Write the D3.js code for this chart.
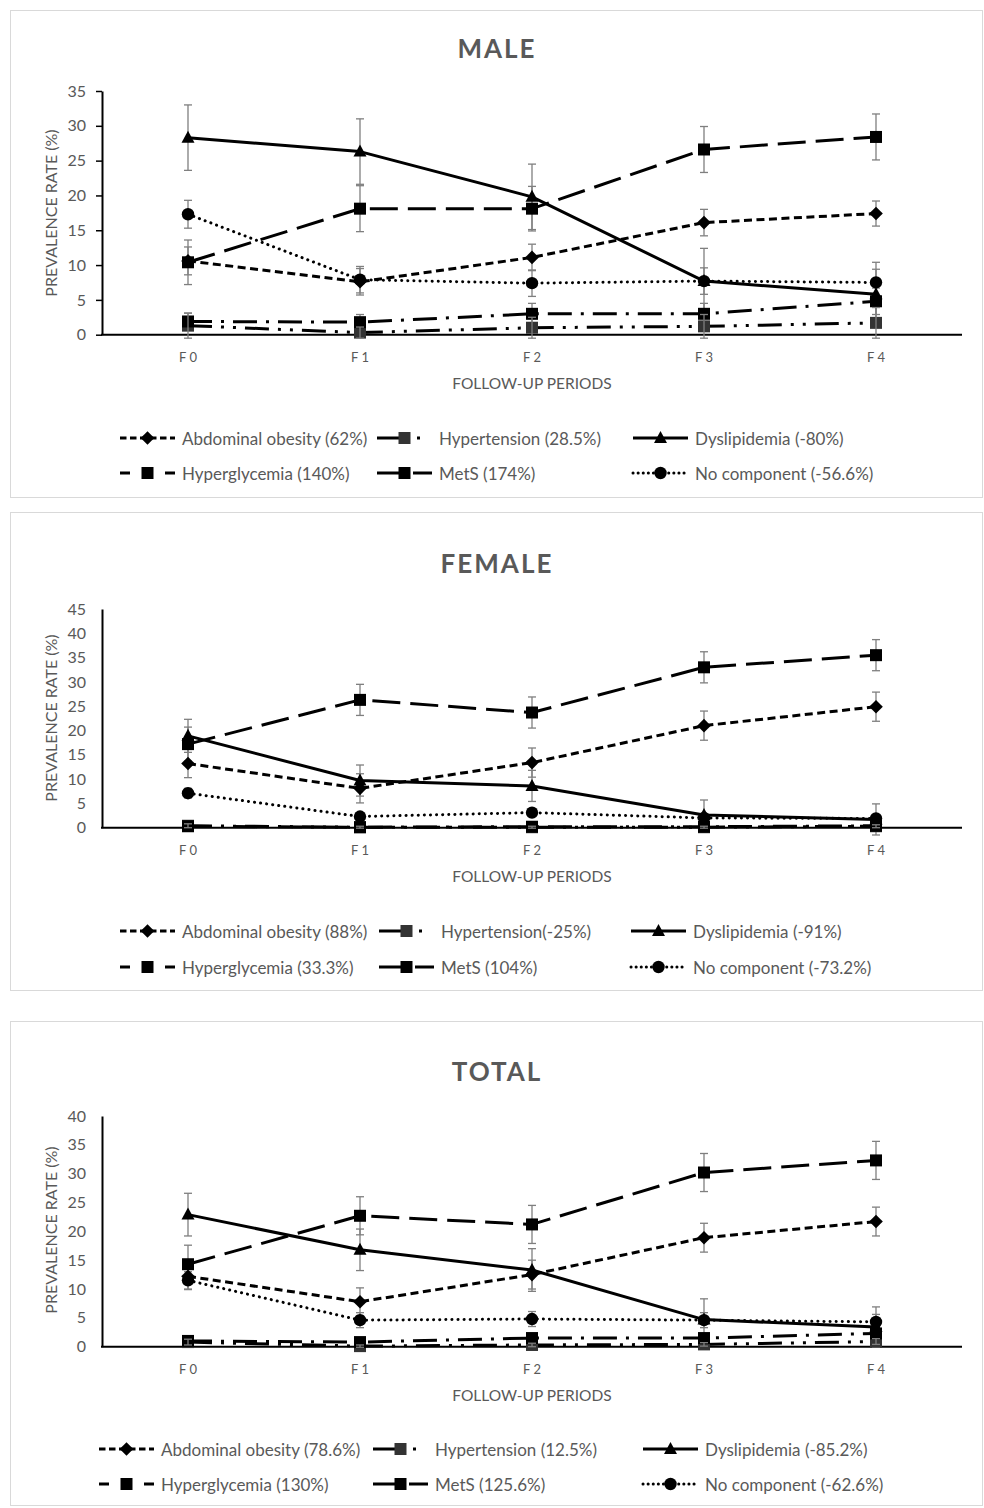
<!DOCTYPE html>
<html><head><meta charset="utf-8">
<script src="https://cdn.jsdelivr.net/npm/d3@7/dist/d3.min.js"></script>
<style>
body{margin:0;background:#fff}
svg{display:block}
text{font-family:Lato,"Open Sans",sans-serif;fill:#595959}
</style>
</head><body>
<svg id="c" width="984" height="1508"></svg>
<script>
// ---------------- DATA ----------------
const periods = ["F0","F1","F2","F3","F4"];
const seriesNames = ["Abdominal obesity","Hypertension","Dyslipidemia","Hyperglycemia","MetS","No component"];

const maleLegend = ["Abdominal obesity (62%)","Hypertension (28.5%)","Dyslipidemia (-80%)","Hyperglycemia (140%)","MetS (174%)","No component (-56.6%)"];
const maleTicks = [0,5,10,15,20,25,30,35];
const maleAbdominal = [10.6, 7.6, 11.1, 16.1, 17.4];
const maleAbdominalErr = [2.0, 1.9, 1.9, 1.9, 1.8];
const maleHypertension = [1.3, 0.3, 1.0, 1.2, 1.7];
const maleHypertensionErr = [1.8, 0.8, 1.5, 1.7, 2.2];
const maleDyslipidemia = [28.3, 26.3, 19.8, 7.7, 5.8];
const maleDyslipidemiaErr = [4.7, 4.7, 4.7, 4.7, 4.6];
const maleHyperglycemia = [10.4, 18.1, 18.1, 26.6, 28.4];
const maleHyperglycemiaErr = [3.2, 3.3, 3.2, 3.3, 3.3];
const maleMetS = [1.9, 1.8, 3.0, 3.0, 4.8];
const maleMetSErr = [1.2, 1.1, 1.5, 1.5, 1.9];
const maleNone = [17.3, 7.9, 7.4, 7.7, 7.5];
const maleNoneErr = [2.0, 1.9, 1.9, 1.9, 1.9];

const femaleLegend = ["Abdominal obesity (88%)","Hypertension(-25%)","Dyslipidemia (-91%)","Hyperglycemia (33.3%)","MetS (104%)","No component (-73.2%)"];
const femaleTicks = [0,5,10,15,20,25,30,35,40,45];
const femaleAbdominal = [13.2, 8.1, 13.4, 21.0, 24.9];
const femaleAbdominalErr = [2.9, 3.0, 3.0, 3.0, 3.0];
const femaleHypertension = [0.4, 0.1, 0.1, 0.1, 0.3];
const femaleHypertensionErr = [0.4, 0.2, 0.2, 0.2, 0.3];
const femaleDyslipidemia = [18.9, 9.7, 8.6, 2.6, 1.7];
const femaleDyslipidemiaErr = [3.4, 3.2, 3.2, 3.1, 3.2];
const femaleHyperglycemia = [17.2, 26.3, 23.7, 33.0, 35.5];
const femaleHyperglycemiaErr = [3.5, 3.2, 3.2, 3.2, 3.2];
const femaleMetS = [0.3, 0.1, 0.2, 0.2, 0.4];
const femaleMetSErr = [0.4, 0.2, 0.3, 0.3, 0.4];
const femaleNone = [7.1, 2.3, 3.1, 2.0, 1.9];
const femaleNoneErr = [1.0, 0.6, 0.7, 0.6, 0.6];

const totalLegend = ["Abdominal obesity (78.6%)","Hypertension (12.5%)","Dyslipidemia (-85.2%)","Hyperglycemia (130%)","MetS (125.6%)","No component (-62.6%)"];
const totalTicks = [0,5,10,15,20,25,30,35,40];
const totalAbdominal = [12.2, 7.8, 12.5, 18.9, 21.7];
const totalAbdominalErr = [2.3, 2.4, 2.5, 2.5, 2.5];
const totalHypertension = [0.8, 0.1, 0.3, 0.4, 0.9];
const totalHypertensionErr = [0.5, 0.2, 0.3, 0.3, 0.5];
const totalDyslipidemia = [22.9, 16.8, 13.3, 4.7, 3.4];
const totalDyslipidemiaErr = [3.7, 3.6, 3.7, 3.6, 3.5];
const totalHyperglycemia = [14.3, 22.7, 21.2, 30.2, 32.3];
const totalHyperglycemiaErr = [3.3, 3.3, 3.3, 3.3, 3.3];
const totalMetS = [1.0, 0.8, 1.5, 1.5, 2.3];
const totalMetSErr = [0.6, 0.5, 0.7, 0.7, 0.9];
const totalNone = [11.5, 4.6, 4.8, 4.6, 4.3];
const totalNoneErr = [1.5, 1.3, 1.3, 1.3, 1.3];

// ---------------- STYLES ----------------
const styles = [
  {dash:"8,4.5", legendDash:"6.5,3.5", marker:"diamond", fill:"#000", cap:"butt"},
  {dash:"24,9,3,9,3,9", legendDash:"28,12,3,20", marker:"square", fill:"#333", cap:"butt"},
  {dash:null, legendDash:null, marker:"triangle", fill:"#000", cap:"butt"},
  {dash:"28,10", legendDash:"10,35,12", marker:"square", fill:"#000", cap:"butt"},
  {dash:"24,9,3,9", legendDash:"28,8,19", marker:"square", fill:"#000", cap:"butt"},
  {dash:"0.1,6", legendDash:"0.1,5", marker:"circle", fill:"#000", cap:"round"}
];

function markerPath(type){
  if(type==="diamond") return "M0,-6.8L6.8,0L0,6.8L-6.8,0Z";
  if(type==="square") return "M-6,-6H6V6H-6Z";
  if(type==="triangle") return "M0,-7L6.5,5H-6.5Z";
  return d3.symbol().type(d3.symbolCircle).size(Math.PI*6.2*6.2)();
}

const panels = [
  {title:"MALE", top:10.5, bottom:497.5, titleY:48, yTop:91, yZero:334.7, ticks:maleTicks, yTicksMarks:true,
   yTitleY:213, legend:maleLegend, legendCols:[120,377,633], legendRows:[438,473],
   values:[maleAbdominal,maleHypertension,maleDyslipidemia,maleHyperglycemia,maleMetS,maleNone],
   errors:[maleAbdominalErr,maleHypertensionErr,maleDyslipidemiaErr,maleHyperglycemiaErr,maleMetSErr,maleNoneErr]},
  {title:"FEMALE", top:512.5, bottom:990.5, titleY:563, yTop:609, yZero:827.7, ticks:femaleTicks, yTicksMarks:false,
   yTitleY:718, legend:femaleLegend, legendCols:[120,379,631], legendRows:[931,967],
   values:[femaleAbdominal,femaleHypertension,femaleDyslipidemia,femaleHyperglycemia,femaleMetS,femaleNone],
   errors:[femaleAbdominalErr,femaleHypertensionErr,femaleDyslipidemiaErr,femaleHyperglycemiaErr,femaleMetSErr,femaleNoneErr]},
  {title:"TOTAL", top:1021.5, bottom:1505.5, titleY:1071, yTop:1116, yZero:1346.7, ticks:totalTicks, yTicksMarks:false,
   yTitleY:1230, legend:totalLegend, legendCols:[99,373,643], legendRows:[1449,1484],
   values:[totalAbdominal,totalHypertension,totalDyslipidemia,totalHyperglycemia,totalMetS,totalNone],
   errors:[totalAbdominalErr,totalHypertensionErr,totalDyslipidemiaErr,totalHyperglycemiaErr,totalMetSErr,totalNoneErr]}
];

const svg = d3.select("#c");
const plotLeft = 102, plotRight = 962;

panels.forEach(p => {
  const g = svg.append("g");
  g.append("rect").attr("x",10.5).attr("y",p.top).attr("width",972).attr("height",p.bottom-p.top)
    .attr("fill","#fff").attr("stroke","#d9d9d9").attr("stroke-width",1);

  g.append("text").attr("x",497).attr("y",p.titleY).attr("text-anchor","middle")
    .attr("dominant-baseline","central").style("font-size","26px").style("font-weight","bold")
    .style("letter-spacing","2px").text(p.title);

  const yMax = p.ticks[p.ticks.length-1];
  const x = d3.scaleBand().domain(periods).range([plotLeft, plotRight]);
  const y = d3.scaleLinear().domain([0, yMax]).range([p.yZero, p.yTop]);

  // Y axis
  const ya = g.append("g").attr("transform",`translate(${plotLeft},0)`)
    .call(d3.axisLeft(y).tickValues(p.ticks).tickFormat(d3.format("d"))
      .tickSize(p.yTicksMarks?6:0).tickSizeOuter(0).tickPadding(p.yTicksMarks?10:16));
  ya.select(".domain").attr("stroke","#000").attr("stroke-width",2);
  ya.selectAll(".tick line").attr("stroke","#000").attr("stroke-width",1.5);
  ya.selectAll(".tick text").style("font-size","16px").style("font-family","Lato").attr("fill","#595959");

  // X axis
  g.append("line").attr("x1",plotLeft-1).attr("x2",plotRight).attr("y1",p.yZero).attr("y2",p.yZero)
    .attr("stroke","#000").attr("stroke-width",2);
  g.selectAll(".xl").data(periods).enter().append("text")
    .attr("x",d=>x(d)+x.bandwidth()/2+1.5).attr("y",p.yZero+22).attr("text-anchor","middle")
    .attr("dominant-baseline","central").style("font-size","13px").style("letter-spacing","3px")
    .text(d=>d);

  g.append("text").attr("x",532).attr("y",p.yZero+48).attr("text-anchor","middle")
    .attr("dominant-baseline","central").style("font-size","15.5px").text("FOLLOW-UP PERIODS");
  g.append("text").attr("transform",`translate(50,${p.yTitleY}) rotate(-90)`).attr("text-anchor","middle")
    .attr("dominant-baseline","central").style("font-size","16px").text("PREVALENCE RATE (%)");

  const cx = d => x(d)+x.bandwidth()/2;
  const line = d3.line().x(d=>cx(d.p)).y(d=>y(d.v));
  const pts = p.values.map((vals,si)=>vals.map((v,i)=>({p:periods[i], v, e:p.errors[si][i]})));

  // lines
  pts.forEach((s,si)=>{
    const st = styles[si];
    g.append("path").attr("d",line(s)).attr("fill","none").attr("stroke","#000")
      .attr("stroke-width",3).attr("stroke-linecap",st.cap).attr("stroke-linejoin","round")
      .attr("stroke-dasharray",st.dash);
  });
  function errBars(s){
    s.forEach(d=>{
      const xx = cx(d.p);
      const eg = g.append("g").attr("stroke","#7f7f7f").attr("stroke-width",1.3);
      eg.append("line").attr("x1",xx).attr("x2",xx).attr("y1",y(d.v-d.e)).attr("y2",y(d.v+d.e));
      eg.append("line").attr("x1",xx-4).attr("x2",xx+4).attr("y1",y(d.v-d.e)).attr("y2",y(d.v-d.e));
      eg.append("line").attr("x1",xx-4).attr("x2",xx+4).attr("y1",y(d.v+d.e)).attr("y2",y(d.v+d.e));
    });
  }
  pts.forEach((s,si)=>{ if(si!==1) errBars(s); });
  pts.forEach((s,si)=>{
    const st = styles[si];
    g.selectAll(null).data(s).enter().append("path")
      .attr("transform",d=>`translate(${cx(d.p)},${y(d.v)})`)
      .attr("d",markerPath(st.marker)).attr("fill",st.fill);
  });
  errBars(pts[1]);

  // legend
  p.legend.forEach((lab,i)=>{
    const st = styles[i];
    const col = i%3, row = Math.floor(i/3);
    const lx = p.legendCols[col], ly = p.legendRows[row];
    const lg = g.append("g");
    lg.append("line").attr("x1",lx).attr("x2",lx+55).attr("y1",ly).attr("y2",ly)
      .attr("stroke","#000").attr("stroke-width",3).attr("stroke-linecap",st.cap)
      .attr("stroke-dasharray",st.legendDash);
    lg.append("path").attr("transform",`translate(${lx+27.5},${ly})`).attr("d",markerPath(st.marker))
      .attr("fill",st.fill);
    lg.append("text").attr("x",lx+62).attr("y",ly).attr("dominant-baseline","central")
      .style("font-size","17px").text(lab);
  });
});
</script>
</body></html>
